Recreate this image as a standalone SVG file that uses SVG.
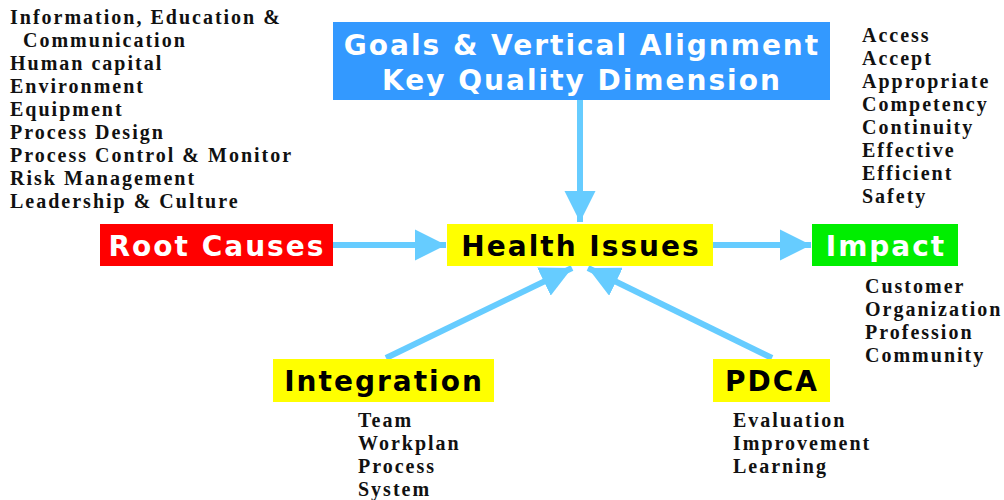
<svg xmlns="http://www.w3.org/2000/svg" width="1004" height="500" viewBox="0 0 1004 500">
  <defs>
    <style>
      .lst { font-family: "Liberation Serif", "Times New Roman", serif; font-weight: bold; font-size: 20px; letter-spacing: 2px; fill: #111; }
      .lbl { font-family: "DejaVu Sans", "Liberation Sans", sans-serif; font-weight: bold; font-size: 28px; letter-spacing: 2px; }
      .wt { fill: #ffffff; }
      .bk { fill: #000000; }
      .conn { stroke: #66ccff; stroke-width: 6; fill: none; }
    </style>
    <marker id="ah" viewBox="0 0 10 10" refX="10" refY="5" markerWidth="5.2" markerHeight="5.2" markerUnits="strokeWidth" orient="auto">
      <path d="M0,0 L10,5 L0,10 Z" fill="#66ccff"/>
    </marker>
  </defs>
  <rect width="1004" height="500" fill="#ffffff"/>

  <!-- connectors -->
  <g id="connectors">
    <line class="conn" x1="580" y1="100" x2="580" y2="222" marker-end="url(#ah)"/>
    <line class="conn" x1="333" y1="245" x2="446" y2="245" marker-end="url(#ah)"/>
    <line class="conn" x1="713" y1="245" x2="811" y2="245" marker-end="url(#ah)"/>
    <line class="conn" x1="386" y1="358" x2="572" y2="268" marker-end="url(#ah)"/>
    <line class="conn" x1="772" y1="358" x2="588" y2="268" marker-end="url(#ah)"/>
  </g>

  <!-- nodes -->
  <g id="goals">
    <rect x="333" y="22" width="497" height="78" fill="#3399ff"/>
    <text class="lbl wt" x="582" y="55" text-anchor="middle" font-size="30" letter-spacing="2">Goals &amp; Vertical Alignment</text>
    <text class="lbl wt" x="582" y="90" text-anchor="middle" font-size="30" letter-spacing="2">Key Quality Dimension</text>
  </g>
  <g id="root-causes">
    <rect x="100" y="224" width="233" height="42" fill="#ff0000"/>
    <text class="lbl wt" x="217" y="256" text-anchor="middle">Root Causes</text>
  </g>
  <g id="health-issues">
    <rect x="447" y="224" width="266" height="42" fill="#ffff00"/>
    <text class="lbl bk" x="581" y="256" text-anchor="middle">Health Issues</text>
  </g>
  <g id="impact">
    <rect x="812" y="224" width="146" height="42" fill="#00ee00"/>
    <text class="lbl wt" x="886" y="256" text-anchor="middle">Impact</text>
  </g>
  <g id="integration">
    <rect x="273" y="359" width="221" height="43" fill="#ffff00"/>
    <text class="lbl bk" x="384" y="391" text-anchor="middle">Integration</text>
  </g>
  <g id="pdca">
    <rect x="713" y="359" width="117" height="43" fill="#ffff00"/>
    <text class="lbl bk" x="772" y="391" text-anchor="middle">PDCA</text>
  </g>

  <!-- root cause list -->
  <g id="root-cause-list">
    <text class="lst" x="10" y="24">Information, Education &amp;</text>
    <text class="lst" x="23" y="47">Communication</text>
    <text class="lst" x="10" y="70">Human capital</text>
    <text class="lst" x="10" y="93">Environment</text>
    <text class="lst" x="10" y="116">Equipment</text>
    <text class="lst" x="10" y="139">Process Design</text>
    <text class="lst" x="10" y="162">Process Control &amp; Monitor</text>
    <text class="lst" x="10" y="185">Risk Management</text>
    <text class="lst" x="10" y="208">Leadership &amp; Culture</text>
  </g>

  <!-- quality dimension list -->
  <g id="dimension-list">
    <text class="lst" x="862" y="42">Access</text>
    <text class="lst" x="862" y="65">Accept</text>
    <text class="lst" x="862" y="88">Appropriate</text>
    <text class="lst" x="862" y="111">Competency</text>
    <text class="lst" x="862" y="134">Continuity</text>
    <text class="lst" x="862" y="157">Effective</text>
    <text class="lst" x="862" y="180">Efficient</text>
    <text class="lst" x="862" y="203">Safety</text>
  </g>

  <!-- impact list -->
  <g id="impact-list">
    <text class="lst" x="865" y="293">Customer</text>
    <text class="lst" x="865" y="316">Organization</text>
    <text class="lst" x="865" y="339">Profession</text>
    <text class="lst" x="865" y="362">Community</text>
  </g>

  <!-- integration list -->
  <g id="integration-list">
    <text class="lst" x="358" y="427">Team</text>
    <text class="lst" x="358" y="450">Workplan</text>
    <text class="lst" x="358" y="473">Process</text>
    <text class="lst" x="358" y="496">System</text>
  </g>

  <!-- pdca list -->
  <g id="pdca-list">
    <text class="lst" x="733" y="427">Evaluation</text>
    <text class="lst" x="733" y="450">Improvement</text>
    <text class="lst" x="733" y="473">Learning</text>
  </g>
</svg>
